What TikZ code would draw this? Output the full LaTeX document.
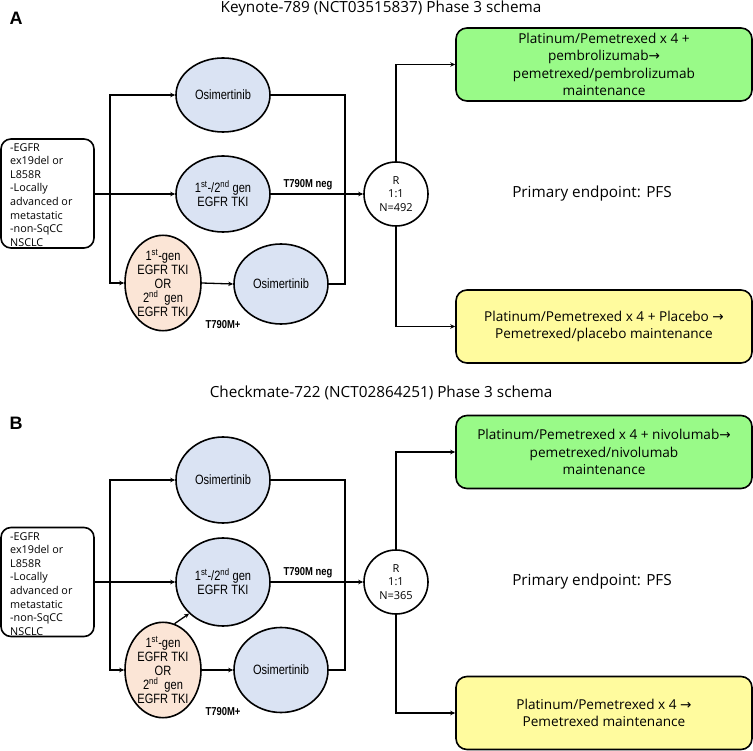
\documentclass[tikz,border=0pt]{standalone}
\usepackage{fontspec}
\setmainfont{Open Sans}
\newfontfamily\narrowfont[FakeStretch=0.82]{Liberation Sans}
\newfontfamily\headfont{Liberation Sans}
\newfontfamily\arrowfont{DejaVu Sans}
\usetikzlibrary{arrows.meta,positioning,shapes.geometric}

\definecolor{drugblue}{RGB}{218,227,243}
\definecolor{priorpeach}{RGB}{251,229,214}
\definecolor{armgreen}{RGB}{153,250,136}
\definecolor{armyellow}{RGB}{255,251,158}

\newcommand{\thento}{{\arrowfont\char"2192}}

\tikzset{
  wire/.style={line width=1.3pt},
  feed/.style={wire, -{Stealth[length=5pt,width=4.5pt]}},
  drug/.style={ellipse, draw, line width=1.6pt, fill=drugblue, inner sep=0pt,
    minimum width=94pt, align=center, font=\narrowfont\fontsize{13.5}{14}\selectfont},
  prior/.style={drug, fill=priorpeach, minimum width=76pt},
  elig/.style={draw, line width=1.6pt, rounded corners=10pt, minimum width=93pt,
    minimum height=109pt, inner sep=0pt},
  rand/.style={circle, draw, line width=1.6pt, fill=white, minimum size=64pt,
    inner sep=0pt, align=center, font=\fontsize{11}{13.3}\selectfont},
  arm/.style={draw, line width=1.6pt, rounded corners=11pt, minimum width=296pt,
    minimum height=73pt, inner sep=0pt, align=center,
    font=\fontsize{13.6}{17.5}\selectfont},
  status/.style={font=\narrowfont\bfseries\fontsize{11.5}{13}\selectfont, inner sep=0pt},
  heading/.style={font=\fontsize{15.3}{17}\selectfont, inner sep=0pt},
  panel/.style={font=\headfont\bfseries\fontsize{18}{20}\selectfont, inner sep=0pt}
}

\begin{document}
\begin{tikzpicture}[x=1pt, y=-1pt]
  \useasboundingbox (0,0) rectangle (753,751);

  % Panel A: Keynote-789
  \node[panel] (laba) at (16,18) {A};
  \node[heading] (titlea) at (381,9) {Keynote-789 (NCT03515837) Phase 3 schema};
  \node[elig] (eliga) at (47.5,193.5) {};
  \node[anchor=north west, inner sep=0pt, align=left,
    font=\fontsize{10.8}{13.6}\selectfont] (eligtexta) at (10,143)
    {-EGFR\\ex19del or\\L858R\\-Locally\\advanced or\\metastatic\\-non-SqCC\\NSCLC};
  \node[drug, minimum height=74pt] (osia) at (223,95) {Osimertinib};
  \node[drug, minimum height=76pt] (tkia) at (223,194)
    {1\textsuperscript{st}-/2\textsuperscript{nd} gen\\EGFR TKI};
  \node[prior, minimum height=82pt] (priora) at (163,283)
    {1\textsuperscript{st}-gen\\EGFR TKI\\OR\\2\textsuperscript{nd}\ \ gen\\EGFR TKI};
  \node[drug, minimum height=80pt] (osilowa) at (281,284) {Osimertinib};
  \node[rand] (randa) at (396,194) {R\\1:1\\N=492};
  \node[arm, fill=armgreen] (greena) at (604,64.5)
    {Platinum/Pemetrexed x 4 +\\pembrolizumab\thento\\pemetrexed/pembrolizumab\\maintenance};
  \node[arm, fill=armyellow] (yellowa) at (604,326.5)
    {Platinum/Pemetrexed x 4 + Placebo \thento\\Pemetrexed/placebo maintenance};
  \node[heading] (pfsa) at (592,194) {Primary endpoint: PFS};
  \node[status] (nega) at (308,185) {T790M neg};
  \node[status] (posa) at (223,325) {T790M+};
  \coordinate (splita) at (110,194);
  \coordinate (joina) at (345,194);
  \draw[feed] (eliga.east |- splita) -- (tkia.west);
  \draw[feed] (splita) |- (osia.west);
  \draw[feed] (splita) |- (priora.west);
  \draw[feed] (priora.east) -- (osilowa.west);
  \draw[wire] (osia.east) -| (joina);
  \draw[wire] (osilowa.east) -| (joina);
  \draw[feed] (tkia.east) -- (randa.west);
  \draw[feed] (randa.north) |- (greena.west);
  \draw[feed] (randa.south) |- (yellowa.west);

  % Panel B: Checkmate-722
  \begin{scope}[yshift=-387pt]
    \node[panel] (labb) at (16,36) {B};
    \node[heading] (titleb) at (381,6) {Checkmate-722 (NCT02864251) Phase 3 schema};
    \node[elig] (eligb) at (47.5,195) {};
    \node[anchor=north west, inner sep=0pt, align=left,
      font=\fontsize{10.8}{13.6}\selectfont] (eligtextb) at (10,145)
      {-EGFR\\ex19del or\\L858R\\-Locally\\advanced or\\metastatic\\-non-SqCC\\NSCLC};
    \node[drug, minimum height=86pt] (osib) at (223,93) {Osimertinib};
    \node[drug, minimum height=88pt] (tkib) at (223,195)
      {1\textsuperscript{st}-/2\textsuperscript{nd} gen\\EGFR TKI};
    \node[prior, minimum height=85pt] (priorb) at (163,283)
      {1\textsuperscript{st}-gen\\EGFR TKI\\OR\\2\textsuperscript{nd}\ \ gen\\EGFR TKI};
    \node[drug, minimum height=85pt] (osilowb) at (281,283) {Osimertinib};
    \node[rand] (randb) at (396,195) {R\\1:1\\N=365};
    \node[arm, fill=armgreen] (greenb) at (604,65)
      {Platinum/Pemetrexed x 4 + nivolumab\thento\\pemetrexed/nivolumab\\maintenance};
    \node[arm, fill=armyellow] (yellowb) at (604,326)
      {Platinum/Pemetrexed x 4 \thento\\Pemetrexed maintenance};
    \node[heading] (pfsb) at (592,195) {Primary endpoint: PFS};
    \node[status] (negb) at (308,186) {T790M neg};
    \node[status] (posb) at (223,325) {T790M+};
    \coordinate (splitb) at (110,195);
    \coordinate (joinb) at (345,195);
    \draw[feed] (eligb.east |- splitb) -- (tkib.west);
    \draw[feed] (splitb) |- (osib.west);
    \draw[feed] (splitb) |- (priorb.west);
    \draw[feed] (priorb.east) -- (osilowb.west);
    \draw[feed] (priorb.76) -- (tkib.223);
    \draw[wire] (osib.east) -| (joinb);
    \draw[wire] (osilowb.east) -| (joinb);
    \draw[feed] (tkib.east) -- (randb.west);
    \draw[feed] (randb.north) |- (greenb.west);
    \draw[feed] (randb.south) |- (yellowb.west);
  \end{scope}
\end{tikzpicture}
\end{document}
